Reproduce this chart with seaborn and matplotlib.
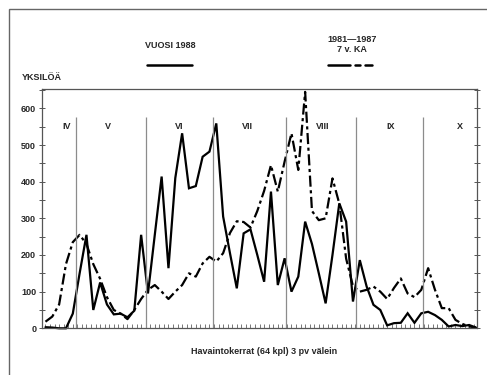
import numpy as np
import pandas as pd
import matplotlib
matplotlib.use("Agg")
import matplotlib.pyplot as plt
import seaborn as sns
from matplotlib.lines import Line2D
from matplotlib.patches import Rectangle
from matplotlib.ticker import MultipleLocator

# ---- data ----
obs = list(range(64))
vuosi_1988 = [3, 2, 0, 0, 40, 150, 255, 50, 125, 65,
              38, 40, 30, 48, 255, 95, 255, 414, 164, 410,
              532, 382, 388, 468, 482, 559, 305, 205, 109, 259,
              270, 200, 127, 373, 118, 191, 100, 141, 291, 230,
              150, 68, 200, 341, 291, 73, 186, 114, 64, 50,
              8, 14, 15, 41, 15, 41, 45, 36, 23, 5,
              9, 6, 9, 2]
ka_1981_1987 = [18, 32, 65, 175, 235, 255, 230, 175, 135, 85,
                50, 40, 25, 50, 80, 105, 118, 100, 80, 100,
                118, 150, 141, 177, 195, 182, 205, 260, 292, 290,
                275, 320, 375, 445, 373, 455, 532, 432, 645, 320,
                295, 300, 409, 340, 190, 115, 100, 105, 114, 100,
                80, 110, 136, 95, 85, 105, 164, 105, 55, 55,
                23, 12, 5, 2]
month_labels = ["IV", "V", "VI", "VII", "VIII", "IX", "X"]
month_label_pos = [3.1, 9.2, 19.6, 29.5, 40.5, 50.5, 60.6]
month_bounds = [4.48, 14.68, 24.54, 35.23, 45.48, 55.24]
yticks = [0, 100, 200, 300, 400, 500, 600]

sns.set_theme(style="white")
plt.rcParams['font.family'] = ['Liberation Sans', 'DejaVu Sans']
plt.rcParams['font.weight'] = 'bold'

W, H = 487, 375
fig = plt.figure(figsize=(W / 100, H / 100), dpi=100)
fig.patch.set_facecolor("white")
ax = fig.add_axes([41.7 / W, 1 - 328.3 / H, (477 - 41.7) / W, (328.3 - 89.3) / H])

df = pd.DataFrame({"obs": obs, "v1988": vuosi_1988, "ka": ka_1981_1987})
sns.lineplot(data=df, x="obs", y="v1988", ax=ax, color="black", lw=1.6)
sns.lineplot(data=df, x="obs", y="ka", ax=ax, color="black", lw=1.6)
ax.lines[-1].set_dashes([5, 1.6, 1.4, 1.6])
for ln in ax.lines:
    ln.set_clip_on(False)
    ln.set_solid_joinstyle("miter")

ax.set_xlim(-0.55, 63.15)
ax.set_ylim(0, 652)
ax.set_xlabel("")
ax.set_ylabel("")

# month separators and labels
ax.vlines(month_bounds, 0, 577, color="#8c8c8c", lw=0.9)
for lab, p in zip(month_labels, month_label_pos):
    ax.text(p, 551, lab, ha="center", va="center", fontsize=6.5, fontweight="bold")

ax.set_yticks(yticks)
ax.set_yticklabels([str(v) for v in yticks], fontsize=6.5, fontweight="bold")
ax.yaxis.set_minor_locator(MultipleLocator(50))
ax.set_xticks([])
ax.xaxis.set_minor_locator(MultipleLocator(2 / 3))
ax.tick_params(axis="y", which="both", left=True, right=True, direction="inout",
               length=4, width=0.7, color="#555555", pad=2)
ax.tick_params(axis="x", which="minor", bottom=True, direction="in",
               length=3, width=0.7, color="#777777")
for s in ax.spines.values():
    s.set_color("#555555")
    s.set_linewidth(0.9)

# texts
fig.text(22 / W, 1 - 77 / H, "YKSILÖÄ", fontsize=6.5, fontweight="bold", ha="left", va="center")
fig.text(170 / W, 1 - 46 / H, "VUOSI 1988", fontsize=6.5, fontweight="bold", ha="center", va="center")
fig.text(352 / W, 1 - 39 / H, "1981—1987", fontsize=6.5, fontweight="bold", ha="center", va="center")
fig.text(352 / W, 1 - 50 / H, "7 v. KA", fontsize=6.5, fontweight="bold", ha="center", va="center")
fig.text(264.5 / W, 1 - 352 / H, "Havaintokerrat (64 kpl) 3 pv välein", fontsize=6.5,
         fontweight="bold", ha="center", va="center")

# legend keys
fig.add_artist(Line2D([147 / W, 192 / W], [1 - 65 / H, 1 - 65 / H], color="black", lw=1.8,
                      transform=fig.transFigure))
fig.add_artist(Line2D([328 / W, 350 / W], [1 - 65 / H, 1 - 65 / H], color="black", lw=1.8,
                      transform=fig.transFigure))
fig.add_artist(Line2D([355 / W, 360 / W], [1 - 65 / H, 1 - 65 / H], color="black", lw=1.8,
                      transform=fig.transFigure))
fig.add_artist(Line2D([365 / W, 372 / W], [1 - 65 / H, 1 - 65 / H], color="black", lw=1.8,
                      transform=fig.transFigure))

# outer frame
fig.add_artist(Rectangle((9 / W, -0.2), 1.5, 1.2 - 9 / H, transform=fig.transFigure,
                         fill=False, ec="#666666", lw=1.0))

fig.savefig("out.png", dpi=100)
